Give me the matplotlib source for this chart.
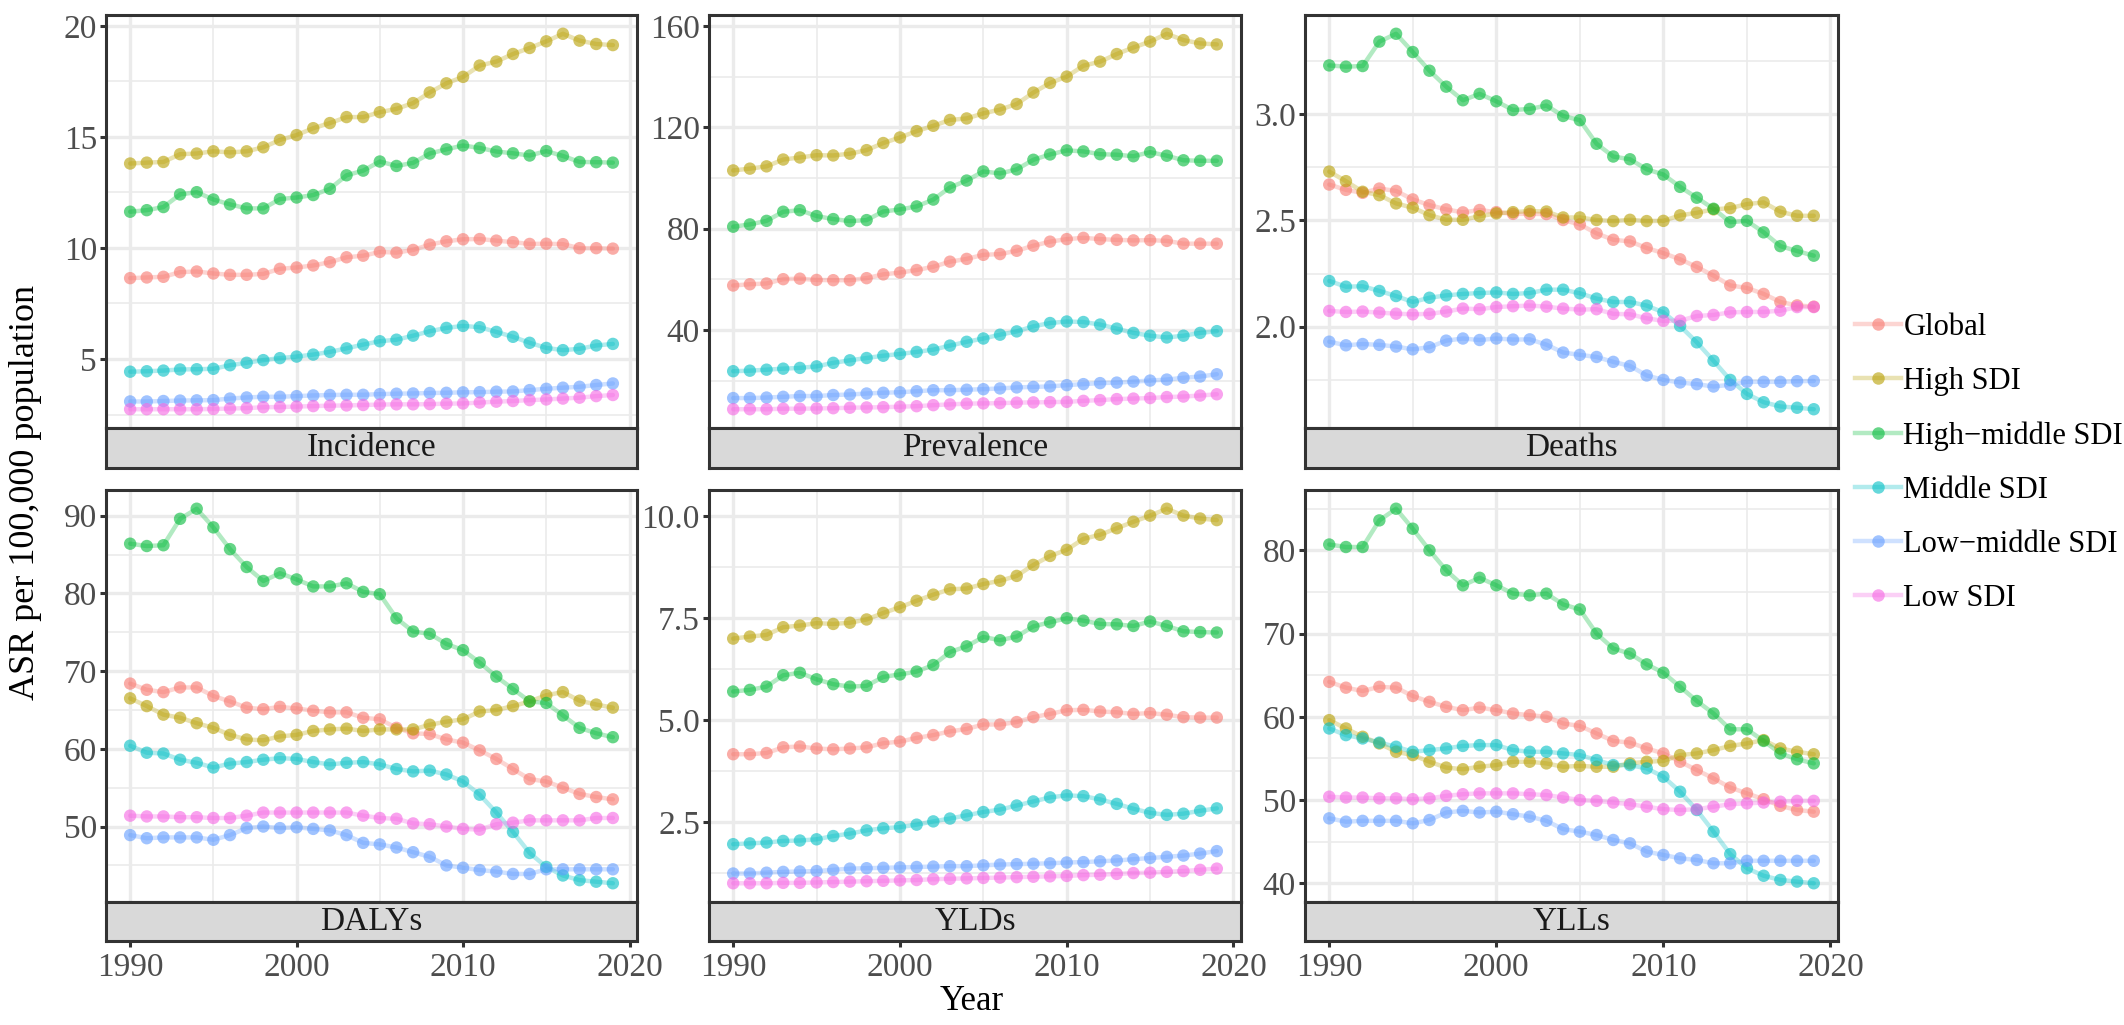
import numpy as np
import matplotlib
matplotlib.use("Agg")
import matplotlib.pyplot as plt
from matplotlib.lines import Line2D
from matplotlib.ticker import MultipleLocator, FormatStrFormatter
from matplotlib.colors import to_rgb

plt.rcParams['font.family'] = ['Liberation Serif', 'DejaVu Serif']

years = list(range(1990, 2020))
groups = ['Global', 'High SDI', 'High\u2212middle SDI', 'Middle SDI',
          'Low\u2212middle SDI', 'Low SDI']
colors = ['#F8766D', '#B79F00', '#00BA38', '#00BFC4', '#619CFF', '#F564E3']
measures = ['Incidence', 'Prevalence', 'Deaths', 'DALYs', 'YLDs', 'YLLs']

# values per measure, rows in the order of `groups`
incidence = [
    [8.64, 8.67, 8.70, 8.91, 8.94, 8.85, 8.79, 8.79, 8.83, 9.06, 9.12, 9.21, 9.36, 9.58, 9.65,
     9.82, 9.79, 9.91, 10.15, 10.30, 10.39, 10.40, 10.33, 10.26, 10.18, 10.19, 10.17, 9.99, 9.99, 9.97],
    [13.80, 13.84, 13.87, 14.22, 14.25, 14.35, 14.30, 14.35, 14.53, 14.86, 15.08, 15.39, 15.62, 15.89, 15.89,
     16.11, 16.26, 16.52, 17.00, 17.41, 17.70, 18.21, 18.39, 18.73, 19.00, 19.30, 19.64, 19.33, 19.18, 19.13],
    [11.63, 11.70, 11.84, 12.41, 12.51, 12.18, 11.96, 11.78, 11.78, 12.20, 12.27, 12.38, 12.66, 13.27, 13.48,
     13.89, 13.69, 13.83, 14.25, 14.44, 14.61, 14.50, 14.34, 14.26, 14.16, 14.36, 14.14, 13.87, 13.86, 13.84],
    [4.43, 4.45, 4.48, 4.53, 4.54, 4.56, 4.72, 4.83, 4.95, 5.04, 5.11, 5.20, 5.32, 5.48, 5.65,
     5.80, 5.87, 6.05, 6.25, 6.40, 6.49, 6.43, 6.22, 6.00, 5.73, 5.50, 5.40, 5.46, 5.61, 5.68],
    [3.09, 3.09, 3.11, 3.13, 3.14, 3.15, 3.22, 3.27, 3.30, 3.30, 3.33, 3.36, 3.38, 3.39, 3.39,
     3.42, 3.44, 3.45, 3.47, 3.48, 3.50, 3.51, 3.53, 3.54, 3.60, 3.66, 3.71, 3.75, 3.83, 3.90],
    [2.74, 2.74, 2.74, 2.74, 2.74, 2.75, 2.77, 2.79, 2.83, 2.84, 2.86, 2.88, 2.90, 2.91, 2.93,
     2.95, 2.96, 2.96, 2.97, 2.99, 3.00, 3.04, 3.08, 3.11, 3.15, 3.18, 3.22, 3.26, 3.33, 3.38],
]

prevalence = [
    [57.6, 58.1, 58.4, 60.1, 60.3, 59.8, 59.7, 59.7, 60.5, 62.0, 62.7, 63.7, 65.0, 67.0, 68.1,
     69.7, 70.0, 71.3, 73.3, 74.9, 75.9, 76.4, 75.9, 75.6, 75.4, 75.5, 75.2, 74.1, 74.1, 74.1],
    [103.0, 103.7, 104.6, 107.3, 108.1, 109.0, 108.9, 109.6, 111.0, 113.8, 116.0, 118.5, 120.6, 122.9, 123.5,
     125.5, 127.0, 129.2, 133.7, 137.5, 140.0, 144.3, 145.9, 148.9, 151.5, 153.8, 156.9, 154.4, 153.1, 152.7],
    [80.8, 81.7, 83.1, 86.7, 87.3, 85.0, 83.8, 83.0, 83.4, 86.8, 87.6, 88.8, 91.5, 96.3, 99.0,
     102.6, 101.8, 103.4, 107.2, 109.3, 110.9, 110.5, 109.4, 109.2, 108.6, 110.2, 108.8, 107.0, 106.8, 106.8],
    [23.8, 24.0, 24.4, 24.8, 25.1, 25.7, 27.1, 28.1, 29.0, 29.9, 30.6, 31.4, 32.3, 33.9, 35.4,
     36.7, 38.2, 39.5, 41.5, 42.8, 43.4, 43.2, 42.2, 40.6, 38.9, 37.8, 37.1, 37.8, 38.9, 39.6],
    [13.2, 13.2, 13.4, 13.7, 14.0, 14.0, 14.4, 14.6, 15.0, 15.3, 15.5, 15.9, 16.3, 16.3, 16.5,
     16.7, 17.0, 17.4, 17.6, 17.8, 18.3, 18.7, 19.1, 19.3, 19.7, 20.1, 20.5, 21.2, 21.7, 22.6],
    [8.8, 8.8, 8.8, 9.0, 9.0, 9.1, 9.2, 9.4, 9.5, 9.6, 9.8, 10.0, 10.4, 10.7, 11.0,
     11.1, 11.2, 11.4, 11.5, 11.6, 11.7, 12.1, 12.4, 12.8, 13.0, 13.2, 13.6, 13.8, 14.2, 14.7],
]

deaths = [
    [2.669, 2.644, 2.630, 2.650, 2.639, 2.599, 2.572, 2.552, 2.538, 2.549, 2.539, 2.531, 2.531, 2.530, 2.502,
     2.481, 2.439, 2.409, 2.401, 2.370, 2.346, 2.317, 2.281, 2.240, 2.194, 2.182, 2.154, 2.116, 2.100, 2.094],
    [2.730, 2.685, 2.635, 2.619, 2.580, 2.560, 2.525, 2.503, 2.503, 2.520, 2.533, 2.539, 2.544, 2.542, 2.514,
     2.514, 2.502, 2.497, 2.503, 2.497, 2.498, 2.524, 2.536, 2.552, 2.558, 2.577, 2.585, 2.541, 2.522, 2.522],
    [3.230, 3.224, 3.227, 3.342, 3.379, 3.293, 3.205, 3.130, 3.066, 3.096, 3.061, 3.020, 3.025, 3.041, 2.992,
     2.972, 2.861, 2.801, 2.788, 2.741, 2.716, 2.658, 2.607, 2.555, 2.492, 2.498, 2.444, 2.379, 2.356, 2.334],
    [2.215, 2.188, 2.190, 2.168, 2.144, 2.116, 2.136, 2.147, 2.154, 2.158, 2.161, 2.154, 2.158, 2.174, 2.174,
     2.157, 2.132, 2.116, 2.116, 2.099, 2.067, 2.003, 1.926, 1.839, 1.749, 1.683, 1.644, 1.624, 1.618, 1.611],
    [1.929, 1.912, 1.918, 1.914, 1.906, 1.893, 1.903, 1.934, 1.944, 1.937, 1.944, 1.939, 1.940, 1.915, 1.878,
     1.867, 1.857, 1.834, 1.815, 1.770, 1.749, 1.737, 1.729, 1.718, 1.726, 1.740, 1.740, 1.740, 1.743, 1.744],
    [2.074, 2.069, 2.071, 2.066, 2.061, 2.058, 2.060, 2.071, 2.085, 2.082, 2.092, 2.096, 2.099, 2.094, 2.085,
     2.080, 2.082, 2.060, 2.058, 2.039, 2.027, 2.028, 2.050, 2.055, 2.067, 2.069, 2.069, 2.075, 2.092, 2.092],
]

dalys = [
    [68.4, 67.6, 67.3, 67.9, 67.9, 66.8, 66.1, 65.3, 65.1, 65.4, 65.2, 64.9, 64.7, 64.7, 64.0,
     63.8, 62.7, 62.0, 61.9, 61.2, 60.8, 59.8, 58.7, 57.4, 56.1, 55.8, 55.0, 54.2, 53.8, 53.5],
    [66.5, 65.5, 64.4, 64.0, 63.3, 62.7, 61.8, 61.2, 61.1, 61.6, 61.8, 62.3, 62.5, 62.6, 62.3,
     62.5, 62.5, 62.5, 63.1, 63.5, 63.8, 64.8, 65.0, 65.5, 66.1, 66.9, 67.3, 66.2, 65.7, 65.3],
    [86.4, 86.1, 86.2, 89.6, 90.9, 88.5, 85.7, 83.4, 81.6, 82.6, 81.8, 80.9, 80.9, 81.3, 80.2,
     79.9, 76.8, 75.1, 74.8, 73.5, 72.7, 71.1, 69.3, 67.7, 66.1, 65.9, 64.3, 62.7, 62.0, 61.5],
    [60.4, 59.5, 59.4, 58.6, 58.2, 57.6, 58.1, 58.3, 58.6, 58.8, 58.7, 58.3, 58.0, 58.2, 58.3,
     58.0, 57.4, 57.1, 57.2, 56.7, 55.8, 54.1, 51.8, 49.3, 46.6, 44.8, 43.7, 43.1, 42.9, 42.7],
    [48.9, 48.5, 48.6, 48.6, 48.6, 48.3, 48.9, 49.8, 50.0, 49.8, 49.9, 49.7, 49.5, 48.9, 47.9,
     47.7, 47.3, 46.7, 46.1, 45.0, 44.7, 44.4, 44.2, 43.9, 43.9, 44.5, 44.5, 44.5, 44.5, 44.5],
    [51.4, 51.3, 51.3, 51.2, 51.2, 51.1, 51.1, 51.4, 51.8, 51.8, 51.8, 51.8, 51.8, 51.8, 51.4,
     51.1, 51.0, 50.4, 50.3, 50.0, 49.7, 49.6, 50.3, 50.5, 50.8, 50.8, 50.8, 50.8, 51.1, 51.1],
]

ylds = [
    [4.16, 4.16, 4.19, 4.33, 4.35, 4.30, 4.28, 4.30, 4.33, 4.43, 4.47, 4.56, 4.63, 4.72, 4.78,
     4.89, 4.89, 4.95, 5.07, 5.15, 5.24, 5.25, 5.21, 5.19, 5.15, 5.17, 5.13, 5.07, 5.06, 5.06],
    [7.00, 7.05, 7.09, 7.28, 7.32, 7.38, 7.36, 7.39, 7.47, 7.63, 7.77, 7.93, 8.08, 8.21, 8.23,
     8.34, 8.42, 8.54, 8.81, 9.03, 9.18, 9.45, 9.55, 9.71, 9.87, 10.02, 10.19, 10.02, 9.95, 9.91],
    [5.70, 5.74, 5.82, 6.10, 6.16, 6.00, 5.88, 5.82, 5.84, 6.06, 6.12, 6.19, 6.35, 6.67, 6.81,
     7.04, 6.96, 7.05, 7.30, 7.40, 7.50, 7.44, 7.36, 7.35, 7.31, 7.42, 7.31, 7.18, 7.16, 7.15],
    [1.95, 1.97, 1.99, 2.03, 2.04, 2.07, 2.15, 2.21, 2.29, 2.34, 2.37, 2.43, 2.51, 2.58, 2.66,
     2.74, 2.80, 2.90, 3.00, 3.10, 3.15, 3.13, 3.05, 2.94, 2.82, 2.72, 2.67, 2.70, 2.77, 2.83],
    [1.23, 1.23, 1.25, 1.27, 1.28, 1.29, 1.32, 1.35, 1.36, 1.37, 1.38, 1.39, 1.40, 1.41, 1.41,
     1.43, 1.45, 1.46, 1.47, 1.48, 1.50, 1.51, 1.53, 1.55, 1.58, 1.61, 1.64, 1.67, 1.72, 1.78],
    [0.99, 0.99, 0.99, 1.00, 1.00, 1.01, 1.02, 1.03, 1.04, 1.05, 1.06, 1.07, 1.09, 1.10, 1.11,
     1.12, 1.13, 1.14, 1.15, 1.16, 1.17, 1.19, 1.20, 1.22, 1.24, 1.25, 1.27, 1.29, 1.32, 1.35],
]

ylls = [
    [64.2, 63.5, 63.1, 63.6, 63.5, 62.5, 61.8, 61.2, 60.8, 61.1, 60.8, 60.4, 60.2, 60.0, 59.2,
     58.9, 58.0, 57.1, 56.9, 56.2, 55.6, 54.6, 53.6, 52.6, 51.5, 50.8, 50.1, 49.3, 48.8, 48.6],
    [59.6, 58.6, 57.6, 56.8, 55.8, 55.4, 54.6, 53.9, 53.7, 54.0, 54.2, 54.6, 54.6, 54.4, 54.0,
     54.1, 54.0, 54.0, 54.4, 54.6, 54.7, 55.4, 55.6, 56.0, 56.5, 56.8, 57.2, 56.2, 55.8, 55.5],
    [80.7, 80.4, 80.4, 83.6, 85.0, 82.6, 80.0, 77.6, 75.8, 76.7, 75.8, 74.8, 74.6, 74.8, 73.5,
     72.9, 70.0, 68.2, 67.6, 66.3, 65.3, 63.6, 61.9, 60.4, 58.5, 58.5, 57.1, 55.6, 54.9, 54.4],
    [58.6, 57.8, 57.4, 56.9, 56.4, 55.8, 56.0, 56.2, 56.5, 56.6, 56.6, 56.0, 55.8, 55.8, 55.6,
     55.4, 54.8, 54.2, 54.2, 53.8, 52.8, 51.0, 48.8, 46.2, 43.5, 41.8, 40.9, 40.4, 40.2, 40.0],
    [47.8, 47.4, 47.5, 47.5, 47.5, 47.2, 47.6, 48.5, 48.7, 48.5, 48.6, 48.3, 48.0, 47.5, 46.5,
     46.2, 45.8, 45.2, 44.8, 43.8, 43.4, 43.0, 42.8, 42.4, 42.4, 42.7, 42.7, 42.7, 42.7, 42.7],
    [50.4, 50.3, 50.3, 50.2, 50.2, 50.1, 50.2, 50.5, 50.7, 50.8, 50.8, 50.8, 50.7, 50.6, 50.3,
     50.0, 49.9, 49.7, 49.5, 49.2, 48.9, 48.8, 48.9, 49.2, 49.5, 49.6, 49.7, 49.8, 49.9, 49.9],
]

panel_data = [incidence, prevalence, deaths, dalys, ylds, ylls]
y_steps = [5, 40, 0.5, 10, 2.5, 10]
y_formats = ['%d', '%d', '%.1f', '%d', '%.1f', '%d']

W, H = 2124, 1025
fig = plt.figure(figsize=(W / 100, H / 100), dpi=100)

col_x = [(106, 637), (709, 1241), (1305, 1838)]
row_y = [(15, 428, 468), (490, 902, 941)]

border = '#333333'
grid_c = '#EBEBEB'
xmin, xmax = years[0], years[-1]
xpad = 0.05 * (xmax - xmin)
fs = 24

for i, name in enumerate(measures):
    r, c = divmod(i, 3)
    x0, x1 = col_x[c]
    y0, y1, y2 = row_y[r]
    ax = fig.add_axes([x0 / W, 1 - y1 / H, (x1 - x0) / W, (y1 - y0) / H])
    st = fig.add_axes([x0 / W, 1 - y2 / H, (x1 - x0) / W, (y2 - y1) / H])

    data = panel_data[i]
    for vals, col in zip(data, colors):
        ax.plot(years, vals, color=col, alpha=0.3, lw=3.2, zorder=2, solid_capstyle='round')
        ax.scatter(years, vals, s=80, color=col, alpha=0.6, edgecolors='none', zorder=3)

    allv = np.array(data)
    lo, hi = allv.min(), allv.max()
    pad = 0.05 * (hi - lo)
    ax.set_ylim(lo - pad, hi + pad)
    ax.set_xlim(xmin - xpad, xmax + xpad)

    ax.xaxis.set_major_locator(MultipleLocator(10))
    ax.xaxis.set_minor_locator(MultipleLocator(5))
    ax.yaxis.set_major_locator(MultipleLocator(y_steps[i]))
    ax.yaxis.set_minor_locator(MultipleLocator(y_steps[i] / 2))
    ax.yaxis.set_major_formatter(FormatStrFormatter(y_formats[i]))
    ax.set_axisbelow(True)
    ax.grid(which='major', color=grid_c, lw=2.4)
    ax.grid(which='minor', color=grid_c, lw=1.2)
    ax.tick_params(axis='x', which='both', bottom=False, labelbottom=False)
    ax.tick_params(axis='y', which='major', length=4.5, width=2.2, color=border,
                   labelsize=fs, labelcolor='#4D4D4D', pad=2)
    ax.tick_params(axis='y', which='minor', length=0)
    for s in ax.spines.values():
        s.set_color(border)
        s.set_linewidth(2.2)

    st.set_facecolor('#D9D9D9')
    st.set_xlim(ax.get_xlim())
    st.set_yticks([])
    for s in st.spines.values():
        s.set_color(border)
        s.set_linewidth(2.2)
    st.text(0.5, 0.5, name, transform=st.transAxes, ha='center', va='center',
            fontsize=fs, color='#1A1A1A')
    if r == 1:
        st.set_xticks([1990, 2000, 2010, 2020])
        st.tick_params(axis='x', length=4.5, width=2.2, color=border,
                       labelsize=fs, labelcolor='#4D4D4D', pad=4)
    else:
        st.set_xticks([])

fig.text(26 / W, 1 - 493 / H, 'ASR per 100,000 population', rotation=90,
         ha='center', va='center', fontsize=26, color='black')
fig.text(972 / W, 1 - 1002 / H, 'Year', ha='center', va='center',
         fontsize=25, color='black')

handles = []
for col in colors:
    rgb = to_rgb(col)
    handles.append(Line2D([0], [0], color=rgb + (0.3,), lw=3.2, marker='o',
                          markersize=9, markerfacecolor=rgb + (0.6,),
                          markeredgecolor='none'))
fig.legend(handles, groups, loc='center left', bbox_to_anchor=(1855 / W, 1 - 463 / H),
           frameon=False, fontsize=22, handlelength=1.5, handletextpad=0.08,
           labelspacing=0.82, borderpad=0, borderaxespad=0)

fig.savefig('out.png', dpi=100)
